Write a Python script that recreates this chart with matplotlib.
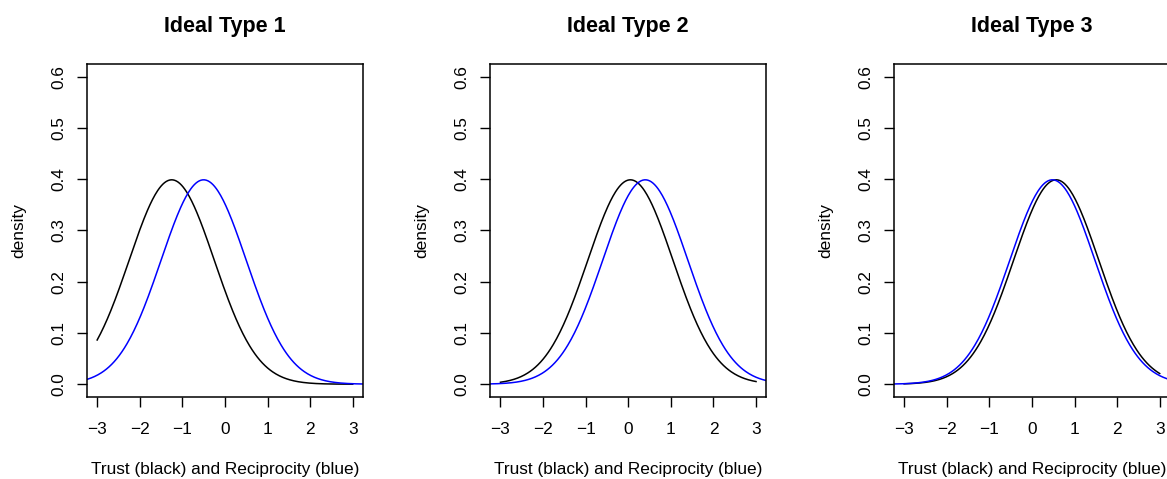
import numpy as np
import matplotlib.pyplot as plt

plt.rcParams["font.family"] = ["Liberation Sans", "DejaVu Sans"]

# --------------------------------------------------
# DATA: normal density curves (sd = 1)
# --------------------------------------------------
titles = ["Ideal Type 1", "Ideal Type 2", "Ideal Type 3"]
trust_means = [-1.25, 0.05, 0.57]        # black curves
recip_means = [-0.5, 0.4, 0.48]          # blue curves
sd = 1.0

x_ticks = [-3, -2, -1, 0, 1, 2, 3]
y_ticks = [0.0, 0.1, 0.2, 0.3, 0.4, 0.5, 0.6]

x_trust = np.linspace(-3, 3, 301)
x_recip = np.linspace(-3.3, 3.3, 331)


def dnorm(x, mu, s):
    return np.exp(-0.5 * ((x - mu) / s) ** 2) / (s * np.sqrt(2 * np.pi))


# --------------------------------------------------
# FIGURE
# --------------------------------------------------
fig = plt.figure(figsize=(11.67, 4.79), dpi=100)

lefts = [0.0745, 0.4201, 0.766]
for i in range(3):
    ax = fig.add_axes([lefts[i], 0.1712, 0.2365, 0.6952])

    ax.plot(x_trust, dnorm(x_trust, trust_means[i], sd), color="black", lw=1.1)
    ax.plot(x_recip, dnorm(x_recip, recip_means[i], sd), color="blue", lw=1.1)

    ax.set_xlim(-3.24, 3.24)
    ax.set_ylim(-0.025, 0.625)
    ax.set_xticks(x_ticks)
    ax.set_xticklabels([f"{t}".replace("-", "\u2212") for t in x_ticks])
    ax.set_yticks(y_ticks)
    ax.set_yticklabels([f"{t:.1f}" for t in y_ticks], rotation=90, va="center")

    ax.tick_params(axis="both", direction="out", length=7, width=1,
                   labelsize=12.4, colors="black")
    ax.tick_params(axis="x", pad=11)
    ax.tick_params(axis="y", pad=8)
    for sp in ax.spines.values():
        sp.set_linewidth(1.1)

    ax.set_title(titles[i], fontsize=15.5, fontweight="bold", pad=23)
    ax.set_xlabel("Trust (black) and Reciprocity (blue)", fontsize=12.4,
                  labelpad=18)
    ax.set_ylabel("density", fontsize=12.4, labelpad=18)

fig.savefig("out.png", dpi=100)
